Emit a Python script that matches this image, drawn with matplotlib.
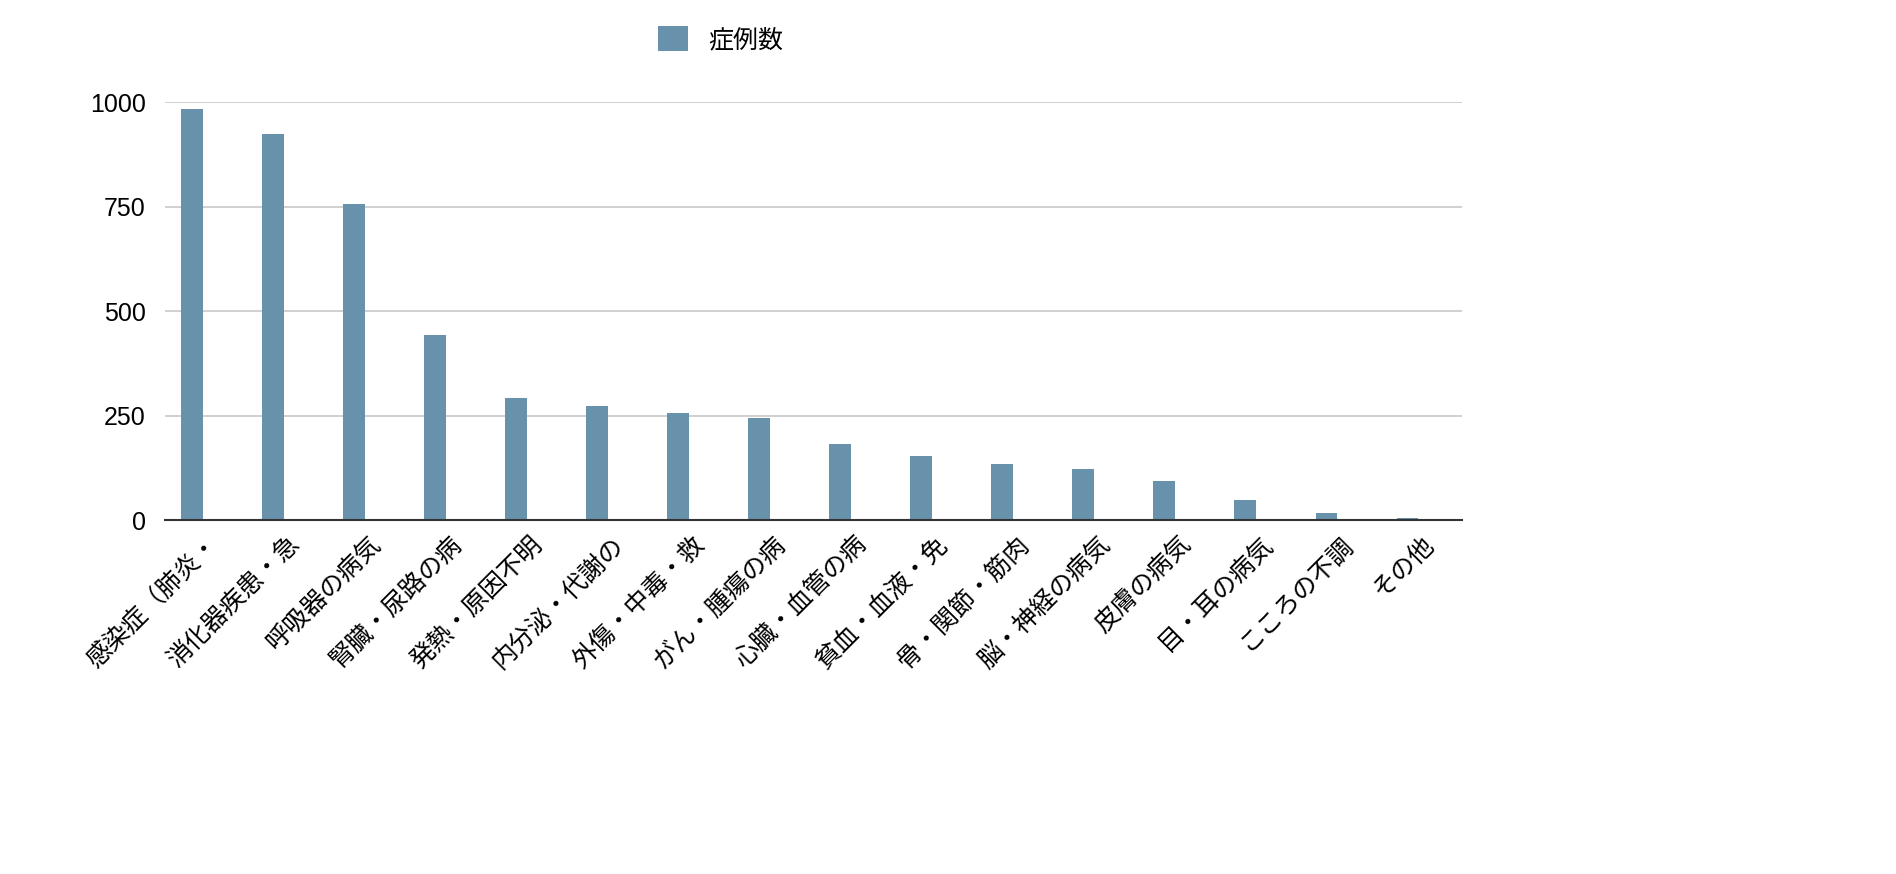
import matplotlib
matplotlib.use("Agg")
import matplotlib.pyplot as plt
import numpy as np

plt.rcParams['font.family'] = ['Noto Sans CJK JP', 'DejaVu Sans']

categories = ["感染症（肺炎・", "消化器疾患・急", "呼吸器の病気", "腎臓・尿路の病", "発熱・原因不明",
              "内分泌・代謝の", "外傷・中毒・救", "がん・腫瘍の病", "心臓・血管の病", "貧血・血液・免",
              "骨・関節・筋肉", "脳・神経の病気", "皮膚の病気", "目・耳の病気", "こころの不調", "その他"]
cases = [985, 925, 757, 443, 292, 274, 257, 245, 181, 153, 134, 122, 93, 47, 17, 6]
second = [3, 2, 3, 2, 2, 2, 2, 2, 2, 2, 2, 2, 2, 2, 1, 1]

fig = plt.figure(figsize=(18.96, 8.74), dpi=100)
ax = fig.add_axes([0.087, 0.405, 0.684, 0.478])
x = np.arange(len(categories))
w = 0.27
b = ax.bar(x - 0.17, cases, w, color='#6891ab', label='症例数')
ax.bar(x + 0.17, second, w, color='#6891ab')
ax.set_xlim(-0.5, len(categories) - 0.5)
ax.set_ylim(0, 1000)
ax.set_yticks([0, 250, 500, 750, 1000])
ax.yaxis.grid(True, color='#c8c8c8', linewidth=1.2)
ax.set_axisbelow(True)
for s in ['top', 'right', 'left']:
    ax.spines[s].set_visible(False)
ax.spines['bottom'].set_color('#333333')
ax.spines['bottom'].set_linewidth(1.5)
ax.set_xticks(x)
ax.set_xticklabels(categories, rotation=45, ha='right', rotation_mode='anchor', fontsize=18)
ax.tick_params(axis='x', length=0, pad=8)
ax.tick_params(axis='y', length=0, labelsize=18, pad=14)
for lbl in ax.get_yticklabels():
    lbl.set_family(['Liberation Sans', 'DejaVu Sans'])
fig.legend(handles=[b], labels=['症例数'], loc='center', bbox_to_anchor=(0.38, 0.955),
           frameon=False, fontsize=18, handlelength=1.2, handleheight=1.2)
fig.savefig('out.png', dpi=100, facecolor='white')
